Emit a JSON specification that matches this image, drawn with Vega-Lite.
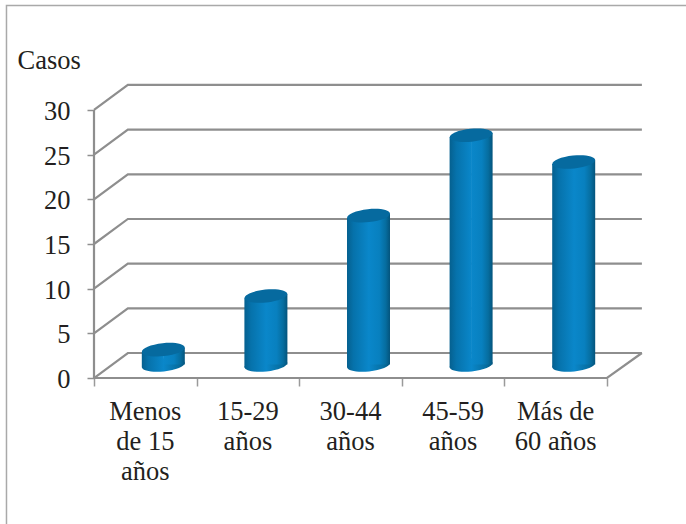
{
  "$schema": "https://vega.github.io/schema/vega-lite/v6.json",
  "width": 686,
  "height": 524,
  "padding": 0,
  "autosize": "none",
  "background": "#ffffff",
  "view": {"stroke": null},
  "config": {"font": "Liberation Serif"},
  "datasets": {
    "casos": [
      {"orden": 0, "grupo": "Menos\nde 15\naños", "casos": 2},
      {"orden": 1, "grupo": "15-29\naños", "casos": 8},
      {"orden": 2, "grupo": "30-44\naños", "casos": 17},
      {"orden": 3, "grupo": "45-59\naños", "casos": 26},
      {"orden": 4, "grupo": "Más de\n60 años", "casos": 23}
    ],
    "paredes": [
      {"linea": "eje", "p": 0, "u": 0, "v": 30},
      {"linea": "eje", "p": 1, "u": 0, "v": 0},
      {"linea": "suelo", "p": 0, "u": 0, "v": 0},
      {"linea": "suelo", "p": 1, "u": 5, "v": 0},
      {"linea": "suelo", "p": 2, "u": 5.34, "v": 2.8},
      {"linea": "n0", "p": 0, "u": 0, "v": 0},
      {"linea": "n0", "p": 1, "u": 0.33, "v": 2.8},
      {"linea": "n0", "p": 2, "u": 5.34, "v": 2.8},
      {"linea": "n5", "p": 0, "u": 0, "v": 5},
      {"linea": "n5", "p": 1, "u": 0.33, "v": 7.8},
      {"linea": "n5", "p": 2, "u": 5.34, "v": 7.8},
      {"linea": "n10", "p": 0, "u": 0, "v": 10},
      {"linea": "n10", "p": 1, "u": 0.33, "v": 12.8},
      {"linea": "n10", "p": 2, "u": 5.34, "v": 12.8},
      {"linea": "n15", "p": 0, "u": 0, "v": 15},
      {"linea": "n15", "p": 1, "u": 0.33, "v": 17.8},
      {"linea": "n15", "p": 2, "u": 5.34, "v": 17.8},
      {"linea": "n20", "p": 0, "u": 0, "v": 20},
      {"linea": "n20", "p": 1, "u": 0.33, "v": 22.8},
      {"linea": "n20", "p": 2, "u": 5.34, "v": 22.8},
      {"linea": "n25", "p": 0, "u": 0, "v": 25},
      {"linea": "n25", "p": 1, "u": 0.33, "v": 27.8},
      {"linea": "n25", "p": 2, "u": 5.34, "v": 27.8},
      {"linea": "n30", "p": 0, "u": 0, "v": 30},
      {"linea": "n30", "p": 1, "u": 0.33, "v": 32.8},
      {"linea": "n30", "p": 2, "u": 5.34, "v": 32.8}
    ],
    "marco": [
      {"p": 0, "u": -0.853, "v": -16.34},
      {"p": 1, "u": -0.853, "v": 41.7},
      {"p": 2, "u": 5.77, "v": 41.7}
    ]
  },
  "layer": [
    {
      "data": {"name": "marco"},
      "mark": {"type": "line", "stroke": "#a9a9a9", "strokeWidth": 1.5, "interpolate": "linear"},
      "encoding": {
        "x": {"field": "u", "type": "quantitative", "scale": {"domain": [-0.9162, 5.77], "nice": false, "zero": false, "padding": 0},
          "axis": {"orient": "bottom", "offset": -146, "values": [0, 1, 2, 3, 4, 5], "labels": false, "domain": false, "grid": false, "title": null, "tickColor": "#9a9a9a", "tickSize": 8, "tickWidth": 1.5}},
        "y": {"field": "v", "type": "quantitative", "scale": {"domain": [-16.34, 42.31], "nice": false, "zero": false, "padding": 0},
          "axis": {"orient": "left", "offset": -94, "values": [0, 5, 10, 15, 20, 25, 30], "domain": false, "grid": false, "tickColor": "#8f8f8f", "tickSize": 7, "tickWidth": 1.5, "labelFontSize": 26.5, "labelColor": "#231f20", "labelPadding": 17, "labelOffset": 1.5, "labelFont": "Liberation Serif",
            "title": "Casos", "titleAngle": 0, "titleAlign": "left", "titleBaseline": "alphabetic", "titleX": -77, "titleY": 68, "titleFontSize": 26.5, "titleFontWeight": "normal", "titleColor": "#231f20", "titleFont": "Liberation Serif"}},
        "order": {"field": "p", "type": "quantitative"}
      }
    },
    {
      "data": {"name": "paredes"},
      "mark": {"type": "line", "stroke": "#8e8e8e", "strokeWidth": 2.2, "interpolate": "linear"},
      "encoding": {
        "x": {"field": "u", "type": "quantitative"},
        "y": {"field": "v", "type": "quantitative"},
        "detail": {"field": "linea", "type": "nominal"},
        "order": {"field": "p", "type": "quantitative"}
      }
    },
    {
      "data": {"name": "casos"},
      "mark": {"type": "point", "shape": "M-1,0C-1,-0.166,-0.552,-0.3,0,-0.3C0.552,-0.3,1,-0.166,1,0C1,0.166,0.552,0.3,0,0.3C-0.552,0.3,-1,0.166,-1,0Z", "size": 1849, "angle": -6, "filled": true, "opacity": 1, "strokeWidth": 0, "xOffset": 69.3, "yOffset": -13,
        "fill": {"gradient": "linear", "x1": 0, "y1": 0, "x2": 1, "y2": 0, "stops": [{"offset": 0, "color": "#05608f"}, {"offset": 0.15, "color": "#0672ab"}, {"offset": 0.5, "color": "#0a87ca"}, {"offset": 0.85, "color": "#066d9f"}, {"offset": 1, "color": "#04547c"}]}},
      "encoding": {
        "x": {"field": "orden", "type": "quantitative"},
        "y": {"datum": 0, "type": "quantitative"}
      }
    },
    {
      "data": {"name": "casos"},
      "mark": {"type": "bar", "orient": "vertical", "size": 22, "xOffset": 58.8, "yOffset": -8.4, "y2Offset": -10.5,
        "fill": {"gradient": "linear", "x1": 0, "y1": 0, "x2": 1, "y2": 0, "stops": [{"offset": 0, "color": "#05608f"}, {"offset": 0.3, "color": "#0672ab"}, {"offset": 1, "color": "#0a87ca"}]}},
      "encoding": {
        "x": {"field": "orden", "type": "quantitative"},
        "y": {"field": "casos", "type": "quantitative"},
        "y2": {"datum": 0}
      }
    },
    {
      "data": {"name": "casos"},
      "mark": {"type": "bar", "orient": "vertical", "size": 21.5, "xOffset": 80.05, "yOffset": -12.6, "y2Offset": -13.5,
        "fill": {"gradient": "linear", "x1": 0, "y1": 0, "x2": 1, "y2": 0, "stops": [{"offset": 0, "color": "#0a87ca"}, {"offset": 0.5, "color": "#0880bf"}, {"offset": 0.8, "color": "#066d9f"}, {"offset": 1, "color": "#04547c"}]}},
      "encoding": {
        "x": {"field": "orden", "type": "quantitative"},
        "y": {"field": "casos", "type": "quantitative"},
        "y2": {"datum": 0}
      }
    },
    {
      "data": {"name": "casos"},
      "mark": {"type": "point", "shape": "M-1,0C-1,-0.166,-0.552,-0.3,0,-0.3C0.552,-0.3,1,-0.166,1,0C1,0.166,0.552,0.3,0,0.3C-0.552,0.3,-1,0.166,-1,0Z", "size": 1849, "angle": -6, "filled": true, "opacity": 1, "strokeWidth": 0, "fill": "#066a9f", "xOffset": 69.3, "yOffset": -10.5},
      "encoding": {
        "x": {"field": "orden", "type": "quantitative"},
        "y": {"field": "casos", "type": "quantitative"}
      }
    },
    {
      "data": {"name": "casos"},
      "mark": {"type": "text", "font": "Liberation Serif", "fontSize": 26.5, "color": "#231f20", "align": "center", "baseline": "alphabetic", "lineBreak": "\n", "lineHeight": 30, "xOffset": 51.3},
      "encoding": {
        "x": {"field": "orden", "type": "quantitative"},
        "y": {"datum": -4.7, "type": "quantitative"},
        "text": {"field": "grupo", "type": "nominal"}
      }
    }
  ]
}
